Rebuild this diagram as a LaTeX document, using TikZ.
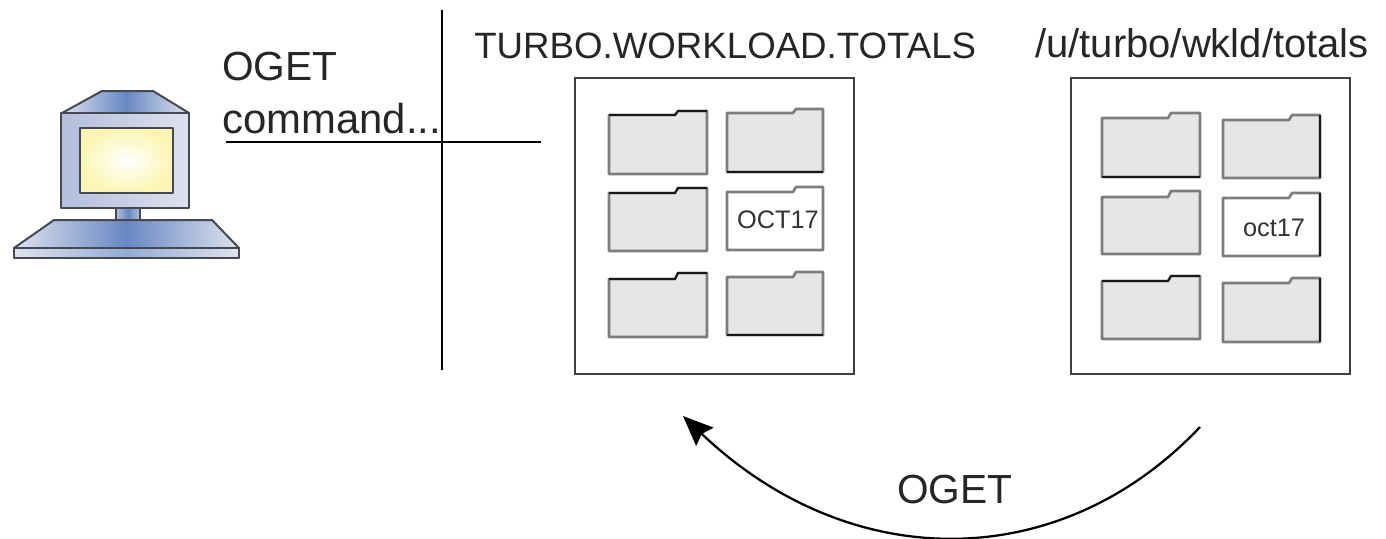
\documentclass[tikz,border=0pt]{standalone}
\usepackage{fontspec}
\setmainfont{Liberation Sans}
\usetikzlibrary{arrows.meta}
\definecolor{edgegray}{RGB}{125,125,125}
\definecolor{edgedark}{RGB}{25,25,25}
\definecolor{foldergray}{RGB}{229,230,232}
\definecolor{pcline}{RGB}{70,72,82}
\definecolor{pcblue}{RGB}{104,136,196}
\definecolor{pcpale}{RGB}{222,226,238}
\definecolor{pcframe}{RGB}{178,190,220}
\definecolor{pcscreen}{RGB}{252,246,178}

\begin{document}
\begin{tikzpicture}[x=0.75pt,y=0.75pt,yscale=-1,xscale=1,
    bigtext/.style={anchor=base west,inner sep=0pt,font=\fontsize{30.5}{30}\selectfont,text=black!85},
    cmdtext/.style={anchor=base west,inner sep=0pt,font=\fontsize{31.4}{30}\selectfont,text=black!85},
    unixtext/.style={anchor=base west,inner sep=0pt,font=\fontsize{30}{30}\selectfont,text=black!85},
    titletext/.style={anchor=base west,inner sep=0pt,font=\fontsize{27.5}{30}\selectfont,text=black!85},
    tabtext/.style={anchor=center,inner sep=0pt,font=\fontsize{19}{20}\selectfont,text=black!80},
    panel/.style={draw=black!75,line width=1.5pt,fill=white},
    folderbody/.style={draw=edgegray,line width=2pt,line join=round},
    folderedge/.style={draw=edgedark,line width=1.4pt},
    pcpart/.style={draw=pcline,line width=1.5pt,line join=round},
    rule/.style={draw=black,line width=1.3pt}]
    \useasboundingbox (0,0) rectangle (1386,539);

    %Shape: Computer head
    \draw [pcpart,left color=pcpale,right color=pcpale,middle color=pcblue] (62,113) -- (102,91) -- (153,91) -- (189,113) -- cycle ;
    \draw [pcpart,left color=pcframe,right color=pcpale] (61,113) rectangle (189,208) ;
    \draw [pcpart,inner color=white,outer color=pcscreen] (80,128) rectangle (173,193) ;
    %Shape: Computer neck
    \draw [pcpart,left color=pcframe,right color=pcframe,middle color=pcblue] (116,208) rectangle (140,220) ;
    %Shape: Computer keyboard
    \draw [pcpart,left color=pcpale,right color=pcpale,middle color=pcblue] (14,248) -- (54,220) -- (212,220) -- (239,248) -- cycle ;
    \draw [pcpart,left color=pcpale,right color=pcpale,middle color=pcblue!70] (14,248) rectangle (239,258) ;

    %Shape: Panels
    \draw [panel] (575,78) rectangle (854,374) ;
    \draw [panel] (1071,78) rectangle (1350,374) ;

    %Shape: Folders, left, right, tab start, tab top, body top, bottom, colour
    \foreach \lx/\rx/\tx/\tabtop/\bodytop/\boty/\col in {
        609/707/678/111/115/174/foldergray, 727/823/796/109/113/172/foldergray,
        609/707/678/188/193/251/foldergray, 727/823/796/187/192/250/white,
        609/707/678/273/279/337/foldergray, 727/823/796/272/277/335/foldergray,
        1102/1200/1171/113/118/177/foldergray, 1223/1320/1292/115/120/178/foldergray,
        1102/1200/1171/191/197/254/foldergray, 1223/1320/1292/193/198/256/white,
        1102/1200/1171/276/281/339/foldergray, 1223/1320/1292/278/283/342/foldergray}
    \draw [folderbody,fill=\col] (\lx,\bodytop) -- (\tx-3,\bodytop) -- (\tx,\tabtop) -- (\rx,\tabtop) -- (\rx,\boty) -- (\lx,\boty) -- cycle ;

    %Straight Lines: darker folder edges
    \foreach \lx/\tx/\rx/\tabtop/\bodytop in {609/678/707/111/115, 609/678/707/188/193, 609/678/707/273/279, 1102/1171/1200/276/281}
    \draw [folderedge] (\lx,\bodytop) -- (\tx-3,\bodytop) -- (\tx,\tabtop) -- (\rx,\tabtop) ;
    \foreach \lx/\rx/\boty in {727/823/172, 727/823/335, 1102/1200/177}
    \draw [folderedge] (\lx,\boty) -- (\rx,\boty) ;
    \foreach \rx/\tabtop/\boty in {1320/115/178, 1320/193/256, 1320/278/342}
    \draw [folderedge] (\rx,\tabtop) -- (\rx,\boty) ;

    %Straight Lines
    \coordinate (ruleTop) at (442,10) ;
    \coordinate (ruleBottom) at (442,370) ;
    \coordinate (ruleLeft) at (226,142) ;
    \coordinate (ruleRight) at (541,142) ;
    \draw [rule] (ruleTop) -- (ruleBottom) ;
    \draw [rule] (ruleLeft) -- (ruleRight) ;

    %Curve Lines
    \coordinate (curveStart) at (1200,427) ;
    \coordinate (curveEnd) at (683,416) ;
    \draw [line width=1.7pt,-{Stealth[length=30*0.75pt,width=25*0.75pt,inset=4*0.75pt]}] (curveStart) .. controls (1060,575) and (850,575) .. (curveEnd) ;

    % Text Node
    \draw (222,80) node (ogetTop) [bigtext] {OGET};
    % Text Node
    \draw (222,133) node (ogetCommand) [cmdtext] {command...};
    % Text Node
    \draw (474,58) node (mvsName) [titletext] {TURBO.WORKLOAD.TOTALS};
    % Text Node
    \draw (1035,57) node (unixName) [unixtext] {/u/turbo/wkld/totals};
    % Text Node
    \draw (778,220) node (mvsMember) [tabtext] {OCT17};
    % Text Node
    \draw (1274,228) node (unixMember) [tabtext] {oct17};
    % Text Node
    \draw (897,503) node (ogetBottom) [bigtext] {OGET};
\end{tikzpicture}
\end{document}
